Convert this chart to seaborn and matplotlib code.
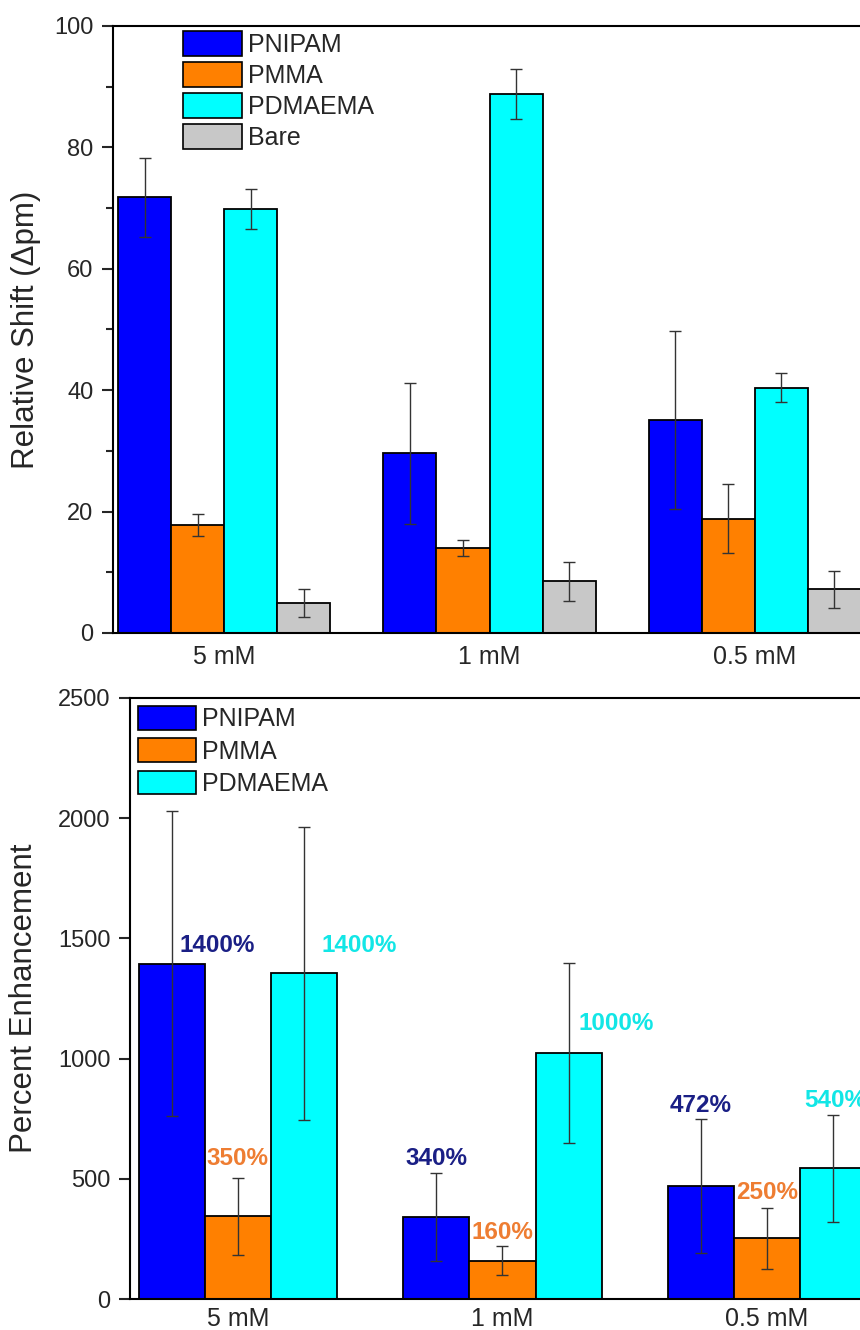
import numpy as np
import pandas as pd
import matplotlib
matplotlib.use("Agg")
import matplotlib.pyplot as plt
from matplotlib.patches import Patch
from matplotlib.ticker import MultipleLocator
import seaborn as sns

# data
concentrations = ["5 mM", "1 mM", "0.5 mM"]
polymers = ["PNIPAM", "PMMA", "PDMAEMA", "Bare"]

shift_pnipam = [71.8, 29.6, 35.1]
shift_pmma = [17.8, 14.0, 18.8]
shift_pdmaema = [69.8, 88.8, 40.4]
shift_bare = [4.9, 8.5, 7.2]
shift_err_pnipam = [6.5, 11.6, 14.7]
shift_err_pmma = [1.8, 1.3, 5.7]
shift_err_pdmaema = [3.3, 4.1, 2.4]
shift_err_bare = [2.3, 3.2, 3.0]

enh_pnipam = [1395, 340, 470]
enh_pmma = [345, 160, 252]
enh_pdmaema = [1354, 1022, 543]
enh_err_pnipam = [635, 183, 277]
enh_err_pmma = [160, 60, 128]
enh_err_pdmaema = [610, 375, 223]

enh_text_pnipam = ["1400%", "340%", "472%"]
enh_text_pmma = ["350%", "160%", "250%"]
enh_text_pdmaema = ["1400%", "1000%", "540%"]

# where the percentage labels sit (x shift from bar centre, y in data units)
text_dx = [[0.17, 0.0, 0.0], [0.0, 0.0, 0.0], [0.21, 0.18, 0.01]]
text_y = [[1470, 583, 804], [583, 275, 442], [1470, 1146, 825]]

colors = ["#0000FF", "#FF8000", "#00FFFF", "#C8C8C8"]
text_colors = ["#1A1F85", "#EE7D32", "#12E6E6"]

sns.set_style("ticks")
plt.rcParams["font.family"] = ["Liberation Sans", "DejaVu Sans"]

shift_df = pd.DataFrame({
    "conc": np.tile(concentrations, 4),
    "polymer": np.repeat(polymers, 3),
    "value": shift_pnipam + shift_pmma + shift_pdmaema + shift_bare,
})
enh_df = pd.DataFrame({
    "conc": np.tile(concentrations, 3),
    "polymer": np.repeat(polymers[:3], 3),
    "value": enh_pnipam + enh_pmma + enh_pdmaema,
})
shift_errs = [shift_err_pnipam, shift_err_pmma, shift_err_pdmaema, shift_err_bare]
enh_errs = [enh_err_pnipam, enh_err_pmma, enh_err_pdmaema]

W, H = 860, 1330
fig = plt.figure(figsize=(W / 100, H / 100), dpi=100)
ax1 = fig.add_axes([113 / W, 1 - 633 / H, 761 / W, 607 / H])
ax2 = fig.add_axes([130 / W, 1 - 1299 / H, 756 / W, 601 / H])


def add_errors(ax, errs):
    bars = list(ax.containers)
    for cont, err in zip(bars, errs):
        for bar in cont:
            xc = bar.get_x() + bar.get_width() / 2
            k = int(round(xc))
            ax.errorbar(xc, bar.get_height(), yerr=err[k], fmt="none",
                        ecolor="#333333", elinewidth=1, capsize=4.5,
                        capthick=1, zorder=5)


def style_axis(ax, xpad):
    ax.set_xlabel("")
    ax.tick_params(axis="x", length=0, pad=xpad, labelsize=18)
    ax.tick_params(axis="y", which="major", direction="out", length=8,
                   width=1.5, pad=6, labelsize=17)
    ax.tick_params(axis="y", which="minor", direction="out", length=5, width=1.5)
    for s in ax.spines.values():
        s.set_linewidth(1.5)
        s.set_color("black")


# top panel
sns.barplot(data=shift_df, x="conc", y="value", hue="polymer", order=concentrations,
            hue_order=polymers, palette=colors, saturation=1, width=0.8,
            errorbar=None, edgecolor="black", linewidth=1.3, legend=False, ax=ax1)
add_errors(ax1, shift_errs)
ax1.set_xlim(-0.42, 2.45)
ax1.set_ylim(0, 100)
ax1.yaxis.set_major_locator(MultipleLocator(20))
ax1.yaxis.set_minor_locator(MultipleLocator(10))
style_axis(ax1, 9)
ax1.set_ylabel("Relative Shift (\u0394pm)", fontsize=22.5)
ax1.yaxis.set_label_coords(-0.095, 0.5)
handles = [Patch(facecolor=c, edgecolor="black", linewidth=1.2) for c in colors]
ax1.legend(handles, polymers, loc="upper left", bbox_to_anchor=(183 / W, 1 - 31 / H),
           bbox_transform=fig.transFigure, frameon=False, fontsize=18,
           borderpad=0, borderaxespad=0, handlelength=2.36, handleheight=1.16,
           labelspacing=0.2, handletextpad=0.25)

# bottom panel
sns.barplot(data=enh_df, x="conc", y="value", hue="polymer", order=concentrations,
            hue_order=polymers[:3], palette=colors[:3], saturation=1, width=0.75,
            errorbar=None, edgecolor="black", linewidth=1.3, legend=False, ax=ax2)
add_errors(ax2, enh_errs)
ax2.set_xlim(-0.408, 2.45)
ax2.set_ylim(0, 2500)
ax2.yaxis.set_major_locator(MultipleLocator(500))
style_axis(ax2, 6)
ax2.set_ylabel("Percent Enhancement", fontsize=22.5)
ax2.yaxis.set_label_coords(-0.121, 0.5)
ax2.legend(handles[:3], polymers[:3], loc="upper left", bbox_to_anchor=(138 / W, 1 - 706 / H),
           bbox_transform=fig.transFigure, frameon=False, fontsize=18,
           borderpad=0, borderaxespad=0, handlelength=2.32, handleheight=1.08,
           labelspacing=0.28, handletextpad=0.25)

texts = [enh_text_pnipam, enh_text_pmma, enh_text_pdmaema]
for i, cont in enumerate(list(ax2.containers)[:3]):
    for bar in cont:
        xc = bar.get_x() + bar.get_width() / 2
        k = int(round(xc))
        ax2.text(xc + text_dx[i][k], text_y[i][k], texts[i][k], color=text_colors[i],
                 fontsize=17.5, fontweight="bold", ha="center", va="center", zorder=6)

fig.savefig("out.png", dpi=100)
